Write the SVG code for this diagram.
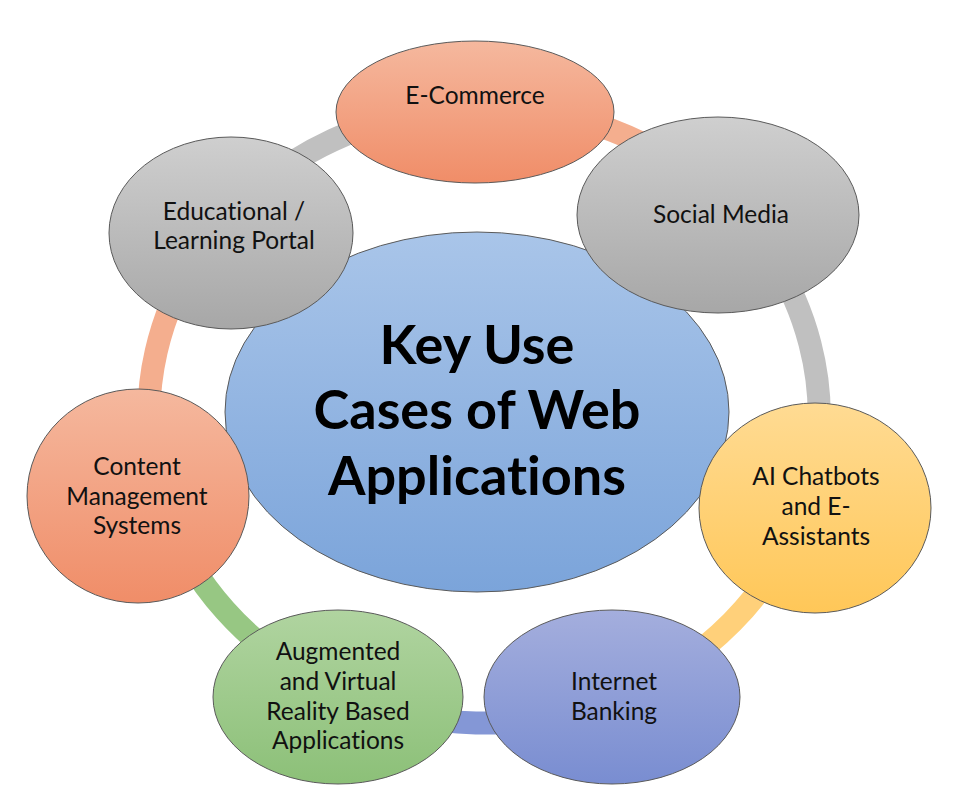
<svg xmlns="http://www.w3.org/2000/svg" width="964" height="800" viewBox="0 0 964 800">
<defs>
<linearGradient id="gOrange" x1="0" y1="0" x2="0" y2="1"><stop offset="0" stop-color="#F5B89E"/><stop offset="1" stop-color="#F08D68"/></linearGradient>
<linearGradient id="gGray" x1="0" y1="0" x2="0" y2="1"><stop offset="0" stop-color="#CFCFCF"/><stop offset="1" stop-color="#A7A7A7"/></linearGradient>
<linearGradient id="gBlue" x1="0" y1="0" x2="0" y2="1"><stop offset="0" stop-color="#A9C5E9"/><stop offset="1" stop-color="#7BA4DA"/></linearGradient>
<linearGradient id="gYellow" x1="0" y1="0" x2="0" y2="1"><stop offset="0" stop-color="#FFDB93"/><stop offset="1" stop-color="#FFC758"/></linearGradient>
<linearGradient id="gIndigo" x1="0" y1="0" x2="0" y2="1"><stop offset="0" stop-color="#A4AEDD"/><stop offset="1" stop-color="#798DD1"/></linearGradient>
<linearGradient id="gGreen" x1="0" y1="0" x2="0" y2="1"><stop offset="0" stop-color="#B0D4A0"/><stop offset="1" stop-color="#8CC078"/></linearGradient>
</defs>
<style>
.ring{fill:none;stroke-width:23}
.node{stroke:#5a5a5a;stroke-width:1}
.lbl{font-family:Lato,"Liberation Sans",sans-serif;font-size:24.5px;fill:#111;text-anchor:middle;font-variant-ligatures:none}
.title{font-family:Lato,"Liberation Sans",sans-serif;font-size:54px;font-weight:bold;fill:#000;text-anchor:middle;font-variant-ligatures:none}
</style>
<g id="connectors">
<path class="ring" stroke="#F4AE8E" d="M475.2,107.1 A335,308 0 0 1 725.4,201.4"/>
<path class="ring" stroke="#C0C0C0" d="M725.4,201.4 A335,308 0 0 1 804.4,505.1"/>
<path class="ring" stroke="#FFD07A" d="M804.4,505.1 A335,308 0 0 1 612.7,699.4"/>
<path class="ring" stroke="#8497D6" d="M612.7,699.4 A335,308 0 0 1 340.3,693.2"/>
<path class="ring" stroke="#97C783" d="M340.3,693.2 A335,308 0 0 1 159.4,491.1"/>
<path class="ring" stroke="#F4AE8E" d="M159.4,491.1 A335,308 0 0 1 220,225.4"/>
<path class="ring" stroke="#C0C0C0" d="M220,225.4 A335,308 0 0 1 475.2,107.1"/>
</g>
<g id="center">
<ellipse class="node" cx="477" cy="412" rx="252" ry="180" fill="url(#gBlue)"/>
<text class="title" x="477" y="364">Key Use</text>
<text class="title" x="477" y="429">Cases of Web</text>
<text class="title" x="477" y="495">Applications</text>
</g>
<g id="ecommerce">
<ellipse class="node" cx="475" cy="112" rx="139" ry="71" fill="url(#gOrange)"/>
<text class="lbl" x="475" y="104">E-Commerce</text>
</g>
<g id="social-media">
<ellipse class="node" cx="718" cy="215" rx="141" ry="98" fill="url(#gGray)"/>
<text class="lbl" x="721" y="223">Social Media</text>
</g>
<g id="ai-chatbots">
<ellipse class="node" cx="815" cy="508" rx="116" ry="105" fill="url(#gYellow)"/>
<text class="lbl" x="816" y="485">AI Chatbots</text>
<text class="lbl" x="816" y="515">and E-</text>
<text class="lbl" x="816" y="545">Assistants</text>
</g>
<g id="internet-banking">
<ellipse class="node" cx="612" cy="697" rx="128" ry="87" fill="url(#gIndigo)"/>
<text class="lbl" x="614" y="690">Internet</text>
<text class="lbl" x="614" y="720">Banking</text>
</g>
<g id="ar-vr">
<ellipse class="node" cx="338" cy="697" rx="125" ry="87" fill="url(#gGreen)"/>
<text class="lbl" x="338" y="660">Augmented</text>
<text class="lbl" x="338" y="690">and Virtual</text>
<text class="lbl" x="338" y="720">Reality Based</text>
<text class="lbl" x="338" y="749">Applications</text>
</g>
<g id="cms">
<ellipse class="node" cx="138" cy="496" rx="111" ry="107" fill="url(#gOrange)"/>
<text class="lbl" x="137" y="475">Content</text>
<text class="lbl" x="137" y="505">Management</text>
<text class="lbl" x="137" y="534">Systems</text>
</g>
<g id="educational">
<ellipse class="node" cx="231" cy="233" rx="122" ry="96" fill="url(#gGray)"/>
<text class="lbl" x="234" y="220">Educational /</text>
<text class="lbl" x="234" y="249">Learning Portal</text>
</g>
</svg>
